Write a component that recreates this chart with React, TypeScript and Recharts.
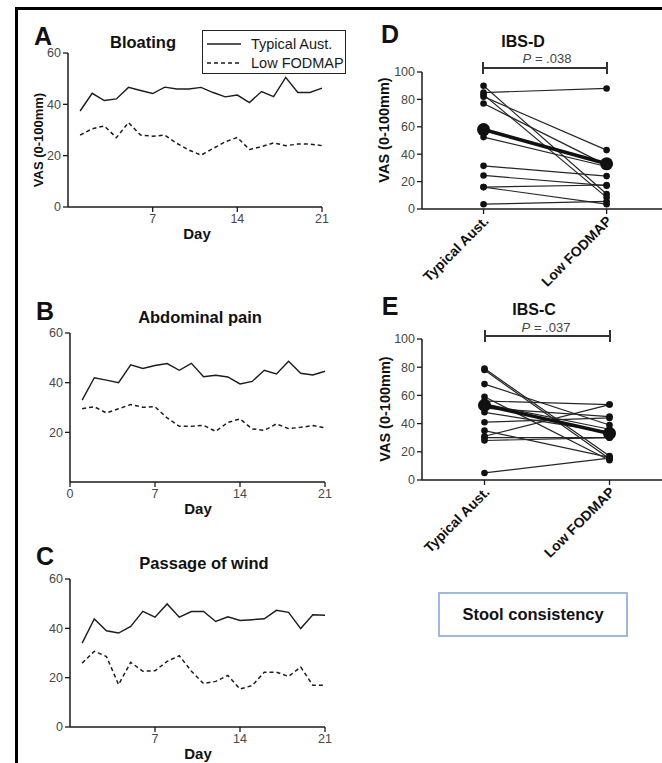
import React from 'react'
import { LineChart, Line, XAxis, YAxis } from 'recharts'

const FONT = '"Liberation Sans", Arial, Helvetica, sans-serif'

// daily VAS scores, days 1-21
const days = [1, 2, 3, 4, 5, 6, 7, 8, 9, 10, 11, 12, 13, 14, 15, 16, 17, 18, 19, 20, 21]
const bloatTypical = [37.4, 44.3, 41.5, 42.1, 46.6, 45.4, 44.2, 46.7, 46.0, 46.0, 46.6, 44.6, 42.9, 43.6, 40.7, 45.0, 43.0, 50.5, 44.6, 44.6, 46.3]
const bloatLow = [28.0, 30.5, 31.6, 27.0, 32.9, 28.0, 27.6, 28.0, 24.8, 22.2, 20.2, 22.8, 25.4, 27.1, 22.4, 23.5, 25.0, 23.9, 24.5, 24.5, 23.9]
const painTypical = [33.0, 42.0, 41.0, 40.0, 47.2, 45.7, 46.9, 47.7, 45.0, 47.8, 42.4, 43.0, 42.3, 39.5, 40.5, 45.0, 43.5, 48.6, 43.8, 43.1, 44.6]
const painLow = [29.5, 30.3, 27.8, 29.5, 31.2, 30.1, 30.3, 25.8, 22.4, 22.4, 22.8, 20.4, 24.0, 25.4, 21.4, 20.8, 23.4, 21.5, 22.0, 22.7, 21.8]
const windTypical = [34.0, 43.8, 39.0, 38.1, 40.8, 46.9, 44.5, 49.9, 44.5, 46.8, 46.8, 42.8, 44.7, 43.2, 43.5, 43.9, 47.3, 46.5, 39.9, 45.5, 45.3]
const windLow = [25.9, 30.7, 28.6, 17.2, 26.2, 22.6, 22.8, 26.6, 28.9, 22.6, 17.6, 18.5, 20.9, 15.4, 16.8, 22.2, 22.2, 20.5, 24.3, 16.9, 16.9]

const seriesNames = ['Typical Aust.', 'Low FODMAP']
const vasTicks = [0, 20, 40, 60]
const dayTicks = [7, 14, 21]

// paired per-patient scores
const groups = ['Typical Aust.', 'Low FODMAP']
const ibsdTypical = [90, 85, 83.5, 82, 77, 52.5, 31.5, 24.5, 16, 16, 3.5]
const ibsdLow = [11, 88, 8.5, 43, 32, 31, 24, 17, 17.5, 3.5, 5.5]
const ibsdMean = [58, 33]
const ibscTypical = [79, 78, 68, 59, 56, 54, 51, 48, 41, 35, 31, 30, 28, 5]
const ibscLow = [17, 15, 39, 14, 53.5, 36, 45, 34, 44, 16, 53.5, 30, 30, 15.5]
const ibscMean = [53, 33]
const pairTicks = [0, 20, 40, 60, 80, 100]

const axisLine = { stroke: '#1a1a1a', strokeWidth: 1.5 }
const tickLine = { stroke: '#1a1a1a', strokeWidth: 1.3 }
const tickText = { fill: '#474747', fontSize: 12.5, fontFamily: FONT }

function dayRows(typ: number[], low: number[]) {
  return days.map((d, i) => ({ day: d, typ: typ[i], low: low[i] }))
}

function pairRows(typ: number[], low: number[], mean: number[]) {
  const a: any = { x: 1, mean: mean[0] }
  const b: any = { x: 2, mean: mean[1] }
  typ.forEach((v, i) => {
    a['p' + i] = v
    b['p' + i] = low[i]
  })
  return [a, b]
}

function Txt({ x, y, size, bold, rotate, color, children }: any) {
  return (
    <div
      style={{
        position: 'absolute', left: x, top: y, lineHeight: 1, whiteSpace: 'nowrap',
        transform: `translate(-50%, -50%)${rotate ? ` rotate(${rotate}deg)` : ''}`,
        fontSize: size, fontWeight: bold ? 700 : 400, color: color || '#111',
      }}
    >
      {children}
    </div>
  )
}

function TimePanel({ typ, low, left, top, width, height, margin, xTicks, yTicks }: any) {
  return (
    <div style={{ position: 'absolute', left, top }}>
      <LineChart width={width} height={height} data={dayRows(typ, low)} margin={margin}>
        <XAxis type="number" dataKey="day" domain={[0, 21]} ticks={xTicks} interval={0} height={30}
          tickSize={5} axisLine={axisLine} tickLine={tickLine} tick={tickText} />
        <YAxis type="number" domain={[0, 60]} ticks={yTicks} interval={0} width={40}
          tickSize={5} axisLine={axisLine} tickLine={tickLine} tick={tickText} />
        <Line dataKey="typ" name={seriesNames[0]} stroke="#1c1c1c" strokeWidth={1.4} dot={false} isAnimationActive={false} />
        <Line dataKey="low" name={seriesNames[1]} stroke="#1c1c1c" strokeWidth={1.5} strokeDasharray="4 3" dot={false} isAnimationActive={false} />
      </LineChart>
    </div>
  )
}

const GroupTick = (props: any) => {
  const { x, y, payload } = props
  const ax = x + 6
  const ay = y + 6
  return (
    <text x={ax} y={ay} transform={`rotate(-45 ${ax} ${ay})`} textAnchor="end"
      fontSize={14} fontWeight={700} fontFamily={FONT} fill="#111">
      {groups[payload.value - 1]}
    </text>
  )
}

function PairPanel({ typ, low, mean, left, top, width, height, margin, domain }: any) {
  return (
    <div style={{ position: 'absolute', left, top }}>
      <LineChart width={width} height={height} data={pairRows(typ, low, mean)} margin={margin}>
        <XAxis type="number" dataKey="x" domain={domain} ticks={[1, 2]} interval={0} height={80}
          tickSize={5} axisLine={axisLine} tickLine={tickLine} tick={<GroupTick />} />
        <YAxis type="number" domain={[0, 100]} ticks={pairTicks} interval={0} width={40}
          tickSize={5} axisLine={axisLine} tickLine={tickLine} tick={tickText} />
        {typ.map((_: number, i: number) => (
          <Line key={i} dataKey={'p' + i} stroke="#262626" strokeWidth={1.2}
            dot={{ r: 3.3, fill: '#111', stroke: '#111', strokeWidth: 0 }} isAnimationActive={false} />
        ))}
        <Line dataKey="mean" stroke="#111" strokeWidth={3.5}
          dot={{ r: 6.5, fill: '#111', stroke: '#111', strokeWidth: 0 }} isAnimationActive={false} />
      </LineChart>
    </div>
  )
}

function Bracket({ x1, x2, y }: any) {
  const s = { position: 'absolute' as const, background: '#333' }
  return (
    <>
      <div style={{ ...s, left: x1, top: y - 0.75, width: x2 - x1, height: 1.5 }} />
      <div style={{ ...s, left: x1 - 0.75, top: y - 6, width: 1.5, height: 12 }} />
      <div style={{ ...s, left: x2 - 0.75, top: y - 6, width: 1.5, height: 12 }} />
    </>
  )
}

export default function App() {
  return (
    <div style={{ position: 'absolute', left: 0, top: 0, width: 662, height: 763, background: '#fff', overflow: 'hidden', fontFamily: FONT }}>
      <div style={{ position: 'absolute', left: 15, top: 7, width: 660, height: 770, borderLeft: '3px solid #000', borderTop: '3px solid #000', boxSizing: 'border-box' }} />

      {/* A */}
      <TimePanel typ={bloatTypical} low={bloatLow} left={0} top={0} width={340} height={250}
        margin={{ top: 53, right: 18, bottom: 13, left: 28 }} xTicks={dayTicks} yTicks={vasTicks} />
      <Txt x={43} y={36} size={25} bold>A</Txt>
      <Txt x={143} y={42} size={16.5} bold>Bloating</Txt>
      <Txt x={38} y={140} size={13} bold rotate={-90}>VAS (0-100mm)</Txt>
      <Txt x={197} y={233} size={15} bold>Day</Txt>
      <div style={{ position: 'absolute', left: 202, top: 30, width: 144, height: 44, border: '1.5px solid #222', boxSizing: 'border-box', background: '#fff' }}>
        {seriesNames.map((n, i) => (
          <div key={n} style={{ position: 'absolute', left: 4, top: 4 + i * 19, height: 18, display: 'flex', alignItems: 'center', fontSize: 14.5, color: '#1a1a1a', whiteSpace: 'nowrap' }}>
            <svg width={36} height={10} style={{ marginRight: 8 }}>
              <line x1={0} y1={5} x2={34} y2={5} stroke="#1c1c1c" strokeWidth={1.4} strokeDasharray={i ? '4 3' : undefined} />
            </svg>
            {n}
          </div>
        ))}
      </div>

      {/* B */}
      <TimePanel typ={painTypical} low={painLow} left={0} top={280} width={345} height={240}
        margin={{ top: 53, right: 20, bottom: 8, left: 30 }} xTicks={[0, 7, 14, 21]} yTicks={[20, 40, 60]} />
      <Txt x={45} y={311} size={25} bold>B</Txt>
      <Txt x={200} y={317} size={16.5} bold>Abdominal pain</Txt>
      <Txt x={198} y={508} size={15} bold>Day</Txt>

      {/* C */}
      <TimePanel typ={windTypical} low={windLow} left={0} top={530} width={345} height={233}
        margin={{ top: 49, right: 20, bottom: 6, left: 30 }} xTicks={dayTicks} yTicks={vasTicks} />
      <Txt x={45} y={556} size={25} bold>C</Txt>
      <Txt x={204} y={563} size={16.5} bold>Passage of wind</Txt>
      <Txt x={198} y={753} size={15} bold>Day</Txt>

      {/* D */}
      <PairPanel typ={ibsdTypical} low={ibsdLow} mean={ibsdMean} left={340} top={0} width={322} height={300}
        margin={{ top: 72, right: 0, bottom: 11, left: 42 }} domain={[0.5, 2.45]} />
      <Txt x={390} y={34} size={25} bold>D</Txt>
      <Txt x={523} y={42} size={16} bold>IBS-D</Txt>
      <Txt x={547} y={58} size={13} color="#444"><i>P</i> = .038</Txt>
      <Bracket x1={483} x2={607} y={68} />
      <Txt x={384} y={130} size={14.5} bold rotate={-90}>VAS (0-100mm)</Txt>

      {/* E */}
      <PairPanel typ={ibscTypical} low={ibscLow} mean={ibscMean} left={340} top={290} width={322} height={280}
        margin={{ top: 49, right: 0, bottom: 10, left: 42 }} domain={[0.5, 2.42]} />
      <Txt x={390} y={306} size={25} bold>E</Txt>
      <Txt x={534} y={310} size={16} bold>IBS-C</Txt>
      <Txt x={546} y={327} size={13} color="#444"><i>P</i> = .037</Txt>
      <Bracket x1={485} x2={610} y={336} />
      <Txt x={385} y={409} size={14.5} bold rotate={-90}>VAS (0-100mm)</Txt>

      <div style={{ position: 'absolute', left: 438, top: 592, width: 190, height: 45, border: '2px solid #9db9df', boxSizing: 'border-box', display: 'flex', alignItems: 'center', justifyContent: 'center', fontSize: 16.5, fontWeight: 700, color: '#111' }}>
        Stool consistency
      </div>
    </div>
  )
}
